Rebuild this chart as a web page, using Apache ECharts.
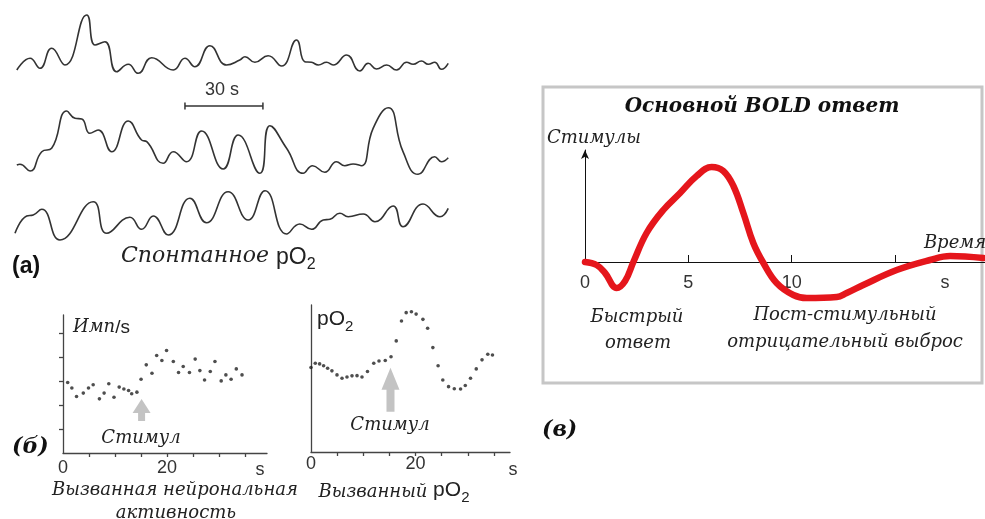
<!DOCTYPE html>
<html><head><meta charset="utf-8">
<script src="https://cdn.jsdelivr.net/npm/echarts@6/dist/echarts.min.js"></script>
<style>html,body{margin:0;padding:0;background:#fff}#c{width:985px;height:519px}</style>
</head><body><div id="c"></div>
<script>
// ---- Panel (a): spontaneous pO2 traces (time in s, amplitude in arbitrary units, offset per trace)
const traceTime1 = [0.7,5.8,9.6,14.1,19.2,27.6,30.8,34.6,39.1,43.6,47.4,52.6,60.9,65.4,69.2,75.0,81.4,86.5,88.5,92.3,97.4,102.6,108.3,111.5,114.1,116.7,119.9,122.4,127.6,132.7,135.9,139.1,143.0,146.8,150.7,153.2,156.4,159.0,161.5,164.1,166.7];
const traceVal1  = [180,191.7,181.7,201.7,185,235,205,208.3,178.3,185.7,176.7,192.3,180,191.7,183.3,204.3,185,190,193.3,187.7,194.3,184,210,188.3,187.7,185,187.7,185,195,179,186.7,181,185,180,187.7,185.7,189,185.7,187.7,180.7,186.7];
const traceTime2 = [0.7,1.9,5.8,10.3,14.1,19.9,23.1,25.7,28.8,32.0,37.2,43.6,48.7,50.7,57.0,60.9,66.0,71.8,80.1,85.9,94.2,98.1,104.5,110.9,114.5,119.2,123.7,126.9,130.1,133.3,137.8,143.6,149.3,155.1,161.5,164.1,166.7];
const traceVal2  = [85,85.7,79,98.3,101.7,139,131.7,131,116.7,120,98.3,129,110,108.3,86.7,98.3,88.3,119,81,115,76.7,124.3,101.7,76.7,84.3,77.7,88.3,84.3,86,84.3,121.7,142.3,98.3,75.7,93.3,88.3,92.3];
const traceTime3 = [0,4.5,7.0,10.3,17.3,30.1,35.3,44.2,48.7,53.2,59.0,67.3,73.7,82.0,89.7,96.2,104.5,109.6,114.1,118.6,121.2,125.0,128.2,134.0,138.5,145.5,149.3,157.0,163.5,166.7];
const traceVal3  = [16.7,34,35,40.7,10,48.3,16.7,32.7,20.7,34,15,51.7,27.3,58.3,30,59.3,16,26,20.7,30,30.7,36.7,33.3,36,28.3,44,23.3,46,33.3,41.7];
const scaleBarTime = [65.4, 95.4];   // 30 s
const scaleBarLevel = 144;

// ---- Panel (б): evoked neuronal activity (imp/s) and evoked pO2
const neuroTime = [0.9,1.7,2.6,3.9,4.9,5.8,7.0,7.9,8.8,9.8,10.8,11.7,12.6,13.2,14.2,15.0,16.0,17.1,18.0,19.0,19.9,21.2,22.2,23.1,24.3,25.4,26.3,27.2,28.3,29.2,30.4,31.3,32.3,33.3,34.4];
const neuroRate = [2.94,2.71,2.36,2.5,2.71,2.85,2.26,2.5,2.89,2.33,2.75,2.67,2.61,2.47,2.54,3.08,3.68,3.33,4.07,3.86,4.28,3.82,3.36,3.61,3.36,3.92,3.44,3.05,3.4,3.82,3.01,3.26,3.08,3.51,3.26];
const po2Time = [0.0,0.82,1.65,2.41,3.18,4.0,4.97,5.93,6.88,7.84,8.8,9.75,10.8,12.0,13.0,14.2,15.3,16.3,17.3,18.2,19.2,20.1,21.4,22.3,23.3,24.3,25.2,26.3,27.4,28.6,29.5,30.5,31.6,32.7,33.8,34.7];
const po2Val  = [3.53,3.71,3.68,3.6,3.5,3.39,3.22,3.08,3.13,3.18,3.19,3.13,3.36,3.71,3.8,3.82,3.98,4.64,5.47,5.82,5.86,5.76,5.54,5.17,4.36,3.6,3.01,2.73,2.64,2.63,2.78,3.08,3.47,3.85,4.08,4.05];
const xTickLabels = [0, 20];
const xTicksB = [5,10,15,20,25,30,35];
const yTicksNeuro = [1,2,3,4,5];
const stimNeuro = [15.1, 1.8];
const stimPo2 = [15.2, 2.6];

// ---- Panel (в): basic BOLD response
const boldTime = [0,0.56,0.97,1.53,1.94,2.34,2.98,3.79,4.6,5.4,6.13,6.69,7.18,7.66,8.14,8.63,9.27,10.08,10.73,12.18,12.66,13.46,15.08,16.69,17.66,19.27];
const boldVal  = [0,-0.03,-0.11,-0.26,-0.19,0,0.29,0.52,0.69,0.86,0.95,0.91,0.76,0.49,0.19,-0.01,-0.21,-0.33,-0.36,-0.35,-0.31,-0.23,-0.08,0.02,0.06,0.04];
const boldTickLabels = [0, 5, 10];
const boldTicks = [5, 10, 15];

const zip = (a, b) => a.map((v, i) => [v, b[i]]);

const SERIF = '"DejaVu Serif", "Liberation Serif", serif';
const SANS = '"Liberation Sans", Arial, sans-serif';
const INK = '#222';

function txt(x, y, text, o) {
  o = o || {};
  return {
    type: 'text', x: x, y: y, silent: true,
    style: Object.assign({
      text: text, fill: INK, fontFamily: SERIF, fontStyle: 'italic', fontSize: 18,
      align: 'center', verticalAlign: 'middle'
    }, o)
  };
}

const hidden = { show: false };
const arrowSmall = 'path://M9,0 L18,14 L12.5,14 L12.5,22 L5.5,22 L5.5,14 L0,14 Z';
const arrowBig = 'path://M9,0 L18,22 L13,22 L13,44 L5,44 L5,22 L0,22 Z';

const option = {
  backgroundColor: '#fff',
  animation: false,
  grid: [
    { left: 15, top: 0, width: 434, height: 250 },
    { left: 63, top: 315, width: 204, height: 138 },
    { left: 311, top: 305, width: 199, height: 147 },
    { left: 585, top: 150, width: 400, height: 112 }
  ],
  xAxis: [
    { gridIndex: 0, type: 'value', min: 0, max: 167, show: false },
    { gridIndex: 1, type: 'value', min: 0, max: 39.2,
      axisLine: { lineStyle: { color: '#444', width: 1.3 } },
      axisTick: { show: true, length: 4, customValues: xTicksB, lineStyle: { color: '#444', width: 1.3 } },
      axisLabel: { customValues: xTickLabels, color: '#333', fontFamily: SANS, fontSize: 18, margin: 6 },
      splitLine: hidden },
    { gridIndex: 2, type: 'value', min: 0, max: 38.05,
      axisLine: { lineStyle: { color: '#444', width: 1.3 } },
      axisTick: { show: true, length: 4, customValues: xTicksB, lineStyle: { color: '#444', width: 1.3 } },
      axisLabel: { customValues: xTickLabels, color: '#333', fontFamily: SANS, fontSize: 18, margin: 3 },
      splitLine: hidden },
    { gridIndex: 3, type: 'value', min: 0, max: 19.35,
      axisLine: { onZero: true, lineStyle: { color: '#111', width: 1 } },
      axisTick: { show: true, inside: true, length: 7, customValues: boldTicks, lineStyle: { color: '#111' } },
      axisLabel: { customValues: boldTickLabels, color: '#333', fontFamily: SANS, fontSize: 18, margin: 12 },
      splitLine: hidden }
  ],
  yAxis: [
    { gridIndex: 0, type: 'value', min: 0, max: 250, show: false },
    { gridIndex: 1, type: 'value', min: 0, max: 5.76,
      axisLine: { show: true, lineStyle: { color: '#444', width: 1.3 } },
      axisTick: { show: true, length: 4, customValues: yTicksNeuro, lineStyle: { color: '#444', width: 1.3 } },
      axisLabel: hidden, splitLine: hidden },
    { gridIndex: 2, type: 'value', min: 0, max: 6.14,
      axisLine: { show: true, lineStyle: { color: '#444', width: 1.3 } },
      axisTick: hidden, axisLabel: hidden, splitLine: hidden },
    { gridIndex: 3, type: 'value', min: 0, max: 1.12,
      axisLine: { show: true, symbol: ['none', 'arrow'], symbolSize: [6, 9], lineStyle: { color: '#111', width: 1 } },
      axisTick: hidden, axisLabel: hidden, splitLine: hidden }
  ],
  series: [
    { type: 'line', xAxisIndex: 0, yAxisIndex: 0, data: zip(traceTime1, traceVal1), smooth: 0.5, showSymbol: false, lineStyle: { color: '#333', width: 1.6 } },
    { type: 'line', xAxisIndex: 0, yAxisIndex: 0, data: zip(traceTime2, traceVal2), smooth: 0.5, showSymbol: false, lineStyle: { color: '#333', width: 1.6 } },
    { type: 'line', xAxisIndex: 0, yAxisIndex: 0, data: zip(traceTime3, traceVal3), smooth: 0.5, showSymbol: false, lineStyle: { color: '#333', width: 1.6 } },
    { type: 'line', xAxisIndex: 0, yAxisIndex: 0, data: scaleBarTime.map(t => [t, scaleBarLevel]),
      symbol: 'rect', symbolSize: [1.5, 7], itemStyle: { color: '#333' }, lineStyle: { color: '#333', width: 1.5 } },

    { type: 'scatter', xAxisIndex: 1, yAxisIndex: 1, data: zip(neuroTime, neuroRate), symbolSize: 3.6, itemStyle: { color: '#222' } },
    { type: 'scatter', xAxisIndex: 1, yAxisIndex: 1, data: [stimNeuro], symbol: arrowSmall, symbolSize: [18, 22], symbolKeepAspect: false, itemStyle: { color: '#b4b4b4' } },
    { type: 'scatter', xAxisIndex: 2, yAxisIndex: 2, data: zip(po2Time, po2Val), symbolSize: 3.6, itemStyle: { color: '#222' } },
    { type: 'scatter', xAxisIndex: 2, yAxisIndex: 2, data: [stimPo2], symbol: arrowBig, symbolSize: [18, 44], symbolKeepAspect: false, itemStyle: { color: '#b4b4b4' } },

    { type: 'line', xAxisIndex: 3, yAxisIndex: 3, data: zip(boldTime, boldVal), smooth: 0.4, clip: false, showSymbol: false,
      lineStyle: { color: '#e5161c', width: 6.5, cap: 'round', join: 'round' } }
  ],
  graphic: [
    { type: 'rect', shape: { x: 543, y: 87, width: 439, height: 296 }, silent: true,
      style: { fill: 'none', stroke: '#c6c6c6', lineWidth: 3 } },
    // panel (a)
    txt(222, 90, '30 s', { fontFamily: SANS, fontStyle: 'normal', fontSize: 18, fill: '#333' }),
    txt(12, 267, '(a)', { fontFamily: SANS, fontStyle: 'normal', fontWeight: 'bold', fontSize: 23, align: 'left', fill: '#111' }),
    {
      type: 'text', x: 121, y: 245, silent: true,
      style: {
        text: '{it|Спонтанное }{s|pO}{b|2}', align: 'left', verticalAlign: 'top',
        rich: {
          it: { fontFamily: SERIF, fontStyle: 'italic', fontSize: 22, fill: INK, verticalAlign: 'top' },
          s: { fontFamily: SANS, fontSize: 23, fill: INK, verticalAlign: 'top', padding: [1, 0, 0, 0] },
          b: { fontFamily: SANS, fontSize: 16, fill: INK, verticalAlign: 'top', padding: [12, 0, 0, 0] }
        }
      }
    },
    // panel (б)
    {
      type: 'text', x: 73, y: 318, silent: true,
      style: {
        text: '{it|Имп}{s|/s}', align: 'left', verticalAlign: 'top',
        rich: {
          it: { fontFamily: SERIF, fontStyle: 'italic', fontSize: 18, fill: INK, verticalAlign: 'top' },
          s: { fontFamily: SANS, fontSize: 19, fill: INK, verticalAlign: 'top' }
        }
      }
    },
    txt(141, 438, 'Стимул'),
    txt(12, 447, '(б)', { fontStyle: 'italic', fontWeight: 'bold', fontSize: 22, align: 'left', fill: '#111' }),
    txt(260, 470, 's', { fontFamily: SANS, fontStyle: 'normal', fontSize: 18, fill: '#333' }),
    txt(175, 490, 'Вызванная нейрональная'),
    txt(176, 513, 'активность'),
    {
      type: 'text', x: 317, y: 309, silent: true,
      style: {
        text: '{s|pO}{b|2}', align: 'left', verticalAlign: 'top',
        rich: {
          s: { fontFamily: SANS, fontSize: 21, fill: INK, verticalAlign: 'top' },
          b: { fontFamily: SANS, fontSize: 15, fill: INK, verticalAlign: 'top', padding: [10, 0, 0, 0] }
        }
      }
    },
    txt(390, 425, 'Стимул'),
    txt(513, 470, 's', { fontFamily: SANS, fontStyle: 'normal', fontSize: 18, fill: '#333' }),
    {
      type: 'text', x: 394, y: 480, silent: true,
      style: {
        text: '{it|Вызванный }{s|pO}{b|2}', align: 'center', verticalAlign: 'top',
        rich: {
          it: { fontFamily: SERIF, fontStyle: 'italic', fontSize: 18, fill: INK, verticalAlign: 'top', padding: [3, 0, 0, 0] },
          s: { fontFamily: SANS, fontSize: 21, fill: INK, verticalAlign: 'top' },
          b: { fontFamily: SANS, fontSize: 15, fill: INK, verticalAlign: 'top', padding: [10, 0, 0, 0] }
        }
      }
    },
    // panel (в)
    txt(762, 107, 'Основной BOLD ответ', { fontWeight: 'bold', fontSize: 20, fill: '#111' }),
    txt(547, 138, 'Стимулы', { align: 'left' }),
    txt(955, 243, 'Время'),
    txt(945, 283, 's', { fontFamily: SANS, fontStyle: 'normal', fontSize: 18, fill: '#333' }),
    txt(637, 317, 'Быстрый'),
    txt(638, 343, 'ответ'),
    txt(845, 315, 'Пост-стимульный'),
    txt(845, 342, 'отрицательный выброс'),
    txt(542, 430, '(в)', { fontWeight: 'bold', fontSize: 22, align: 'left', fill: '#111' })
  ]
};

const chart = echarts.init(document.getElementById('c'), null, { renderer: 'canvas' });
chart.setOption(option);
</script></body></html>
